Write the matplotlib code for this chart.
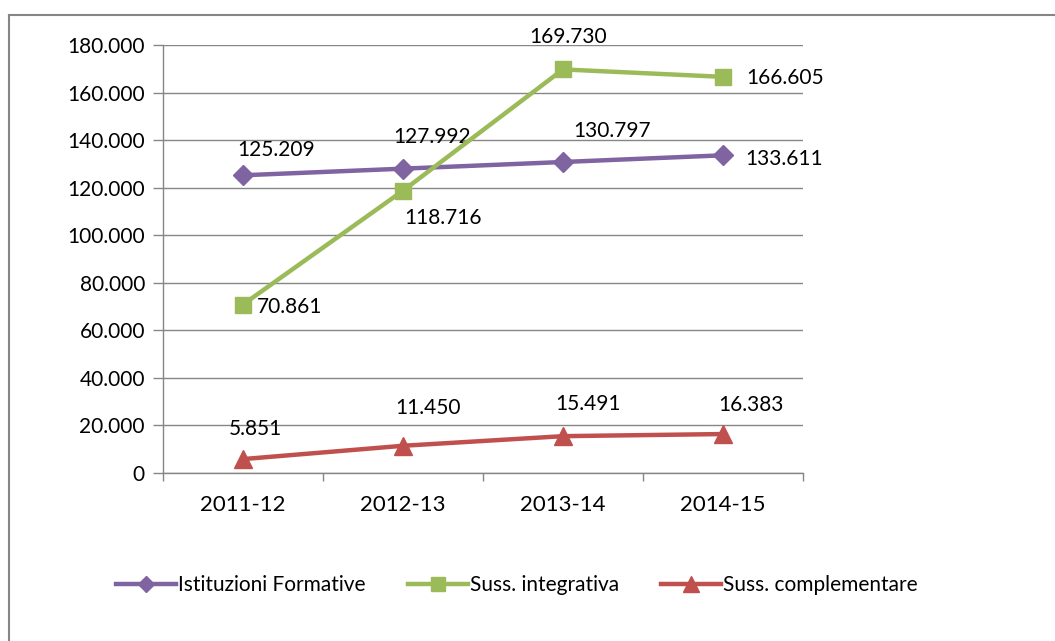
import matplotlib
matplotlib.use('Agg')
import matplotlib.pyplot as plt
from matplotlib.lines import Line2D
from matplotlib.ticker import FuncFormatter, FixedLocator

plt.rcParams['font.family'] = ['Lato', 'DejaVu Sans']

anni = ['2011-12', '2012-13', '2013-14', '2014-15']
istituzioni = [125209, 127992, 130797, 133611]
integrativa = [70861, 118716, 169730, 166605]
complementare = [5851, 11450, 15491, 16383]

serie = [
    ('Istituzioni Formative', istituzioni, '#8064A2', 'D', 10),
    ('Suss. integrativa', integrativa, '#9BBB59', 's', 12),
    ('Suss. complementare', complementare, '#C0504D', '^', 13),
]

# label offsets (points) and alignment for each data label
offsets = [
    [((24, 18), 'center'), ((21, 23), 'center'), ((35, 22), 'center'), ((16, -3), 'left')],
    [((10, -2), 'left'), ((29, -20), 'center'), ((4, 23), 'center'), ((17, -1), 'left')],
    [((9, 22), 'center'), ((18, 27), 'center'), ((18, 23), 'center'), ((20, 21), 'center')],
]

def fmt(v, pos=None):
    return f'{int(v):,}'.replace(',', '.')

fig = plt.figure(figsize=(10.55, 6.41), dpi=100)
ax = fig.add_axes([163 / 1055, 1 - 473 / 641, 640 / 1055, 428 / 641])

x = list(range(len(anni)))
handles = []
for (nome, vals, col, mk, ms), offs in zip(serie, offsets):
    ax.plot(x, vals, color=col, lw=3.2, marker=mk, ms=ms, zorder=3)
    handles.append(Line2D([], [], color=col, lw=3.2, marker=mk, ms=ms * 0.85))
    for xi, v, (off, ha) in zip(x, vals, offs):
        ax.annotate(fmt(v), (xi, v), xytext=off, textcoords='offset points',
                    ha=ha, va='center', fontsize=15, color='black')

ax.set_xlim(-0.5, 3.5)
ax.set_ylim(0, 180000)
ax.set_yticks(range(0, 180001, 20000))
ax.yaxis.set_major_formatter(FuncFormatter(fmt))
ax.set_xticks(x)
ax.set_xticklabels(anni, fontsize=16)
ax.xaxis.set_minor_locator(FixedLocator([-0.5, 0.5, 1.5, 2.5, 3.5]))
ax.tick_params(axis='x', which='major', length=0, pad=16)
ax.tick_params(axis='x', which='minor', length=6, color='#868686', width=1)
ax.tick_params(axis='y', length=7, color='#868686', width=1, labelsize=15, pad=6)
ax.grid(axis='y', color='#868686', lw=1)
ax.set_axisbelow(True)
for s in ['top', 'right']:
    ax.spines[s].set_visible(False)
for s in ['left', 'bottom']:
    ax.spines[s].set_color('#868686')
    ax.spines[s].set_linewidth(1)

fig.legend(handles, [s[0] for s in serie], loc='center', bbox_to_anchor=(0.49, 1 - 585 / 641),
           ncol=3, frameon=False, fontsize=15, handlelength=2.9, handletextpad=0.1,
           columnspacing=2.0)

# chart border (only top and left visible in the crop)
fig.add_artist(Line2D([9 / 1055, 9 / 1055], [0, 1 - 15 / 641], transform=fig.transFigure,
                      color='#868686', lw=1.5))
fig.add_artist(Line2D([9 / 1055, 1], [1 - 15 / 641, 1 - 15 / 641], transform=fig.transFigure,
                      color='#868686', lw=1.5))

fig.savefig('out.png', dpi=100)
